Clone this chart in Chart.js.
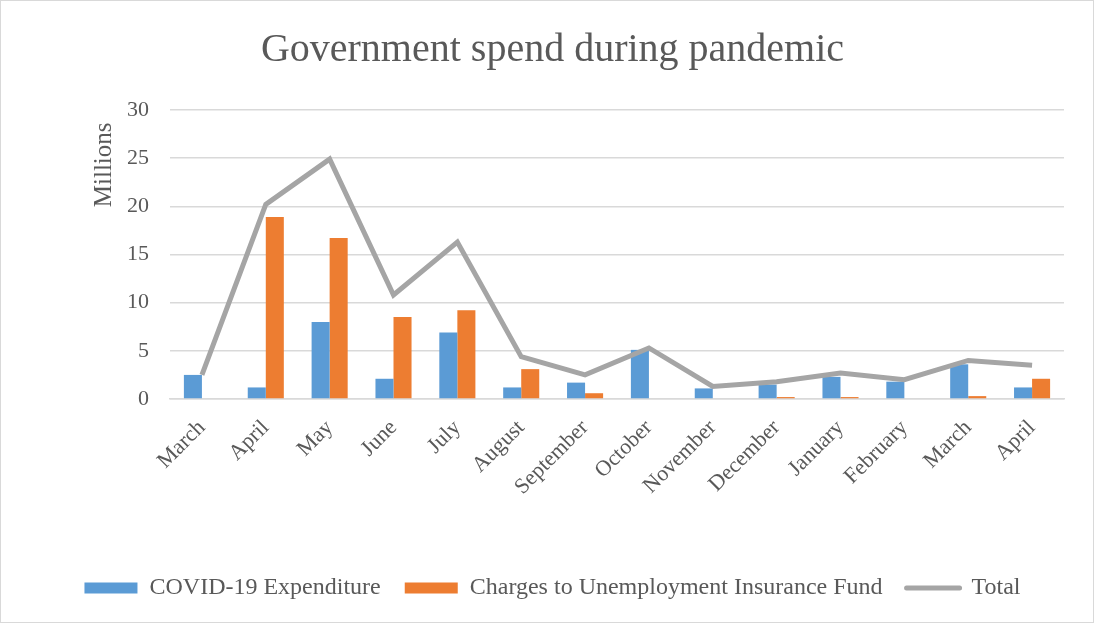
<!DOCTYPE html>
<html>
<head>
<meta charset="utf-8">
<script src="https://cdn.jsdelivr.net/npm/chart.js@4"></script>
<style>
  html, body { margin: 0; padding: 0; background: #fff; }
  #wrap { width: 1094px; height: 623px; box-sizing: border-box; border: 1px solid #d9d9d9; }
</style>
</head>
<body>
<div id="wrap"><canvas id="spendChart" width="1092" height="621"></canvas></div>
<script>
// Months from March to April of the next year
const months = [
    'March', 'April', 'May', 'June', 'July', 'August', 'September',
    'October', 'November', 'December', 'January', 'February', 'March', 'April'
];

// Values in millions
const covidExpenditure = [2.5, 1.2, 8.0, 2.1, 6.9, 1.2, 1.7, 5.1, 1.1, 1.5, 2.3, 1.8, 3.6, 1.2];
const uifCharges = [0, 18.9, 16.7, 8.5, 9.2, 3.1, 0.6, 0, 0, 0.2, 0.2, 0, 0.3, 2.1];
const totalSpend = [2.5, 20.2, 24.9, 10.8, 16.3, 4.4, 2.5, 5.3, 1.3, 1.8, 2.7, 2.0, 4.0, 3.5];

const yTicks = [0, 5, 10, 15, 20, 25, 30];

document.addEventListener('DOMContentLoaded', function () {
    const ctx = document.getElementById('spendChart').getContext('2d');
    const textColor = '#595959';
    const serif = "'Liberation Serif', 'Times New Roman', serif";

    const data = {
        labels: months,
        datasets: [
            {
                type: 'line',
                label: 'Total',
                data: totalSpend,
                borderColor: '#A5A5A5',
                backgroundColor: '#A5A5A5',
                borderWidth: 5,
                pointRadius: 0,
                pointHoverRadius: 0,
                tension: 0,
                order: 0
            },
            {
                label: 'COVID-19 Expenditure',
                data: covidExpenditure,
                backgroundColor: '#5B9BD5',
                barPercentage: 1,
                categoryPercentage: 0.565,
                order: 1
            },
            {
                label: 'Charges to Unemployment Insurance Fund',
                data: uifCharges,
                backgroundColor: '#ED7D31',
                barPercentage: 1,
                categoryPercentage: 0.565,
                order: 1
            }
        ]
    };

    const config = {
        type: 'bar',
        data: data,
        options: {
            responsive: false,
            animation: false,
            layout: { padding: { left: 40, right: 29, top: 0, bottom: 12 } },
            plugins: {
                title: {
                    display: true,
                    text: 'Government spend during pandemic',
                    color: textColor,
                    font: { family: serif, size: 40, weight: 'normal' },
                    padding: { top: 25, bottom: 36 }
                },
                legend: {
                    position: 'bottom',
                    labels: {
                        color: textColor,
                        font: { family: serif, size: 24 },
                        usePointStyle: true,
                        pointStyleWidth: 53,
                        boxHeight: 11,
                        padding: 24,
                        // bars first, then the line, as in the original
                        sort: function (a, b) { return (a.datasetIndex === 0 ? 3 : a.datasetIndex) - (b.datasetIndex === 0 ? 3 : b.datasetIndex); },
                        generateLabels: function (chart) {
                            const items = Chart.defaults.plugins.legend.labels.generateLabels(chart);
                            items.forEach(function (item) {
                                if (item.datasetIndex === 0) {
                                    item.pointStyle = 'line';
                                    item.lineWidth = 5;
                                    item.lineCap = 'round';
                                    item.strokeStyle = '#A5A5A5';
                                } else {
                                    item.pointStyle = 'rect';
                                    item.lineWidth = 0;
                                }
                            });
                            return items;
                        }
                    }
                },
                tooltip: { enabled: false }
            },
            scales: {
                x: {
                    grid: { display: false },
                    border: { color: '#D9D9D9', width: 1.5 },
                    ticks: {
                        color: textColor,
                        font: { family: serif, size: 22 },
                        minRotation: 45,
                        maxRotation: 45,
                        autoSkip: false,
                        padding: 8
                    },
                    afterFit: function (scale) { scale.height = 153; }
                },
                y: {
                    min: 0,
                    max: 30,
                    afterBuildTicks: function (scale) {
                        scale.ticks = yTicks.map(function (v) { return { value: v }; });
                    },
                    grid: { color: '#D9D9D9', lineWidth: 1.5, drawTicks: false },
                    border: { display: false },
                    ticks: {
                        color: textColor,
                        font: { family: serif, size: 22 },
                        padding: 21
                    },
                    title: {
                        display: true,
                        text: 'Millions  ',
                        align: 'end',
                        color: textColor,
                        font: { family: serif, size: 25 },
                        padding: { top: 48, bottom: 0 }
                    },
                    afterFit: function (scale) { scale.width = 129; }
                }
            }
        }
    };

    new Chart(ctx, config);
});
</script>
</body>
</html>
